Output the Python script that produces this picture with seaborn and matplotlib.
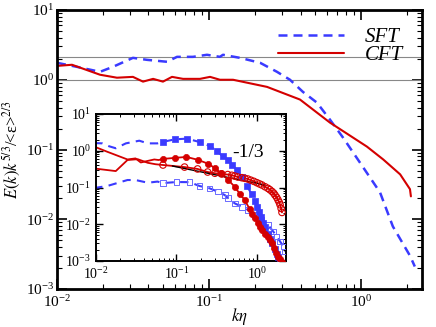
import numpy as np
import pandas as pd
import matplotlib
matplotlib.use("Agg")
import matplotlib.pyplot as plt
import seaborn as sns

# ---- main panel: compensated spectra E(k) k^5/3 / <eps>^2/3
k_sft = [0.01, 0.01354, 0.0192, 0.0233, 0.0316, 0.0391, 0.053, 0.0616, 0.0785,
         0.097, 0.118, 0.1236, 0.16, 0.217, 0.28, 0.341, 0.415, 0.513, 0.625,
         0.762, 0.984, 1.334, 1.62, 2.10, 2.26]
e_sft = [1.75, 1.53, 1.30, 1.53, 2.06, 1.93, 1.81, 2.13, 2.13,
         2.28, 2.13, 2.28, 2.06, 1.75, 1.30, 1.0, 0.67, 0.47, 0.268,
         0.148, 0.065, 0.0243, 0.0079, 0.0030, 0.0021]

k_cft = [0.01, 0.01256, 0.0192, 0.0248, 0.0316, 0.0368, 0.0429, 0.0498, 0.0571,
         0.0675, 0.0873, 0.1016, 0.118, 0.144, 0.241, 0.397, 0.625, 1.094,
         1.40, 1.81, 2.10, 2.13]
e_cft = [1.58, 1.64, 1.18, 1.07, 1.10, 0.94, 1.03, 0.94, 1.10,
         1.03, 1.03, 1.10, 1.0, 1.0, 0.79, 0.52, 0.243, 0.110,
         0.072, 0.044, 0.027, 0.0213]

ref_levels = [1.0, 2.1]

# ---- inset: low-k part is line only, the rest carries symbols
sft1_line_k = [0.0095, 0.012, 0.0145, 0.0176, 0.0235, 0.0345, 0.044, 0.058]
sft1_line_e = [1.62, 1.59, 1.33, 1.17, 1.59, 1.88, 1.59, 1.59]
sft1_sym_k = [0.068, 0.096, 0.135, 0.194, 0.259, 0.32, 0.376, 0.434, 0.49, 0.562,
              0.649, 0.75, 0.866, 0.944, 1.0, 1.07, 1.14, 1.2, 1.26, 1.38, 1.46,
              1.55, 1.68, 1.76, 1.83, 1.94]
sft1_sym_e = [1.75, 2.05, 2.14, 1.73, 1.35, 0.98, 0.70, 0.56, 0.42, 0.30,
              0.19, 0.11, 0.065, 0.042, 0.03, 0.022, 0.016, 0.011, 0.0085, 0.0055, 0.004,
              0.003, 0.0021, 0.0016, 0.0013, 0.0009]

sft2_line_k = [0.0095, 0.0138, 0.0246, 0.031, 0.044, 0.058]
sft2_line_e = [0.097, 0.11, 0.16, 0.16, 0.135, 0.145]
sft2_sym_k = [0.068, 0.1, 0.145, 0.194, 0.259, 0.326, 0.398, 0.44, 0.531, 0.65,
              0.78, 0.944, 1.14, 1.38, 1.6, 1.76, 1.94, 2.14, 2.24]
sft2_sym_e = [0.132, 0.141, 0.14, 0.11, 0.095, 0.077, 0.0625, 0.051, 0.037, 0.03,
              0.0244, 0.0179, 0.0131, 0.0095, 0.0063, 0.0046, 0.0034, 0.0025, 0.0018]

cft1_line_k = [0.0095, 0.0138, 0.0246, 0.031, 0.036, 0.044, 0.053, 0.060]
cft1_line_e = [1.3, 0.94, 0.58, 0.62, 0.48, 0.53, 0.58, 0.56]
cft1_sym_k = [0.068, 0.095, 0.133, 0.183, 0.244, 0.30, 0.36, 0.44, 0.53, 0.61,
              0.71, 0.81, 0.88, 0.944, 1.02, 1.09, 1.17, 1.26, 1.36, 1.46,
              1.55, 1.64, 1.73, 1.83, 1.94, 2.05]
cft1_sym_e = [0.60, 0.64, 0.68, 0.57, 0.45, 0.34, 0.245, 0.16, 0.105, 0.068,
              0.045, 0.026, 0.019, 0.0148, 0.011, 0.0085, 0.0068, 0.0055, 0.0045, 0.0038,
              0.003, 0.0023, 0.0017, 0.0013, 0.0011, 0.00093]

cft2_line_k = [0.0095, 0.0176, 0.0246, 0.033, 0.044, 0.055]
cft2_line_e = [0.33, 0.28, 0.56, 0.59, 0.47, 0.43]
cft2_sym_k = [0.068, 0.126, 0.183, 0.244, 0.30, 0.365, 0.434, 0.487, 0.531, 0.578,
              0.649, 0.708, 0.772, 0.841, 0.917, 1.0, 1.08, 1.155, 1.26, 1.37,
              1.45, 1.54, 1.62, 1.68, 1.76, 1.83, 1.89, 1.94, 2.0, 2.05]
cft2_sym_e = [0.41, 0.36, 0.32, 0.264, 0.245, 0.233, 0.225, 0.215, 0.205, 0.193,
              0.185, 0.178, 0.17, 0.158, 0.147, 0.135, 0.125, 0.117, 0.105, 0.095,
              0.087, 0.078, 0.07, 0.062, 0.054, 0.046, 0.04, 0.034, 0.027, 0.021]

slope_k = [0.089, 1.26]
slope_e = [0.385, 0.117]

BLUE = "#3a3aff"
RED = "#d40000"

sns.set_style("ticks")
plt.rcParams.update({
    "font.family": ["Liberation Serif", "DejaVu Serif"],
    "mathtext.fontset": "stix",
    "axes.edgecolor": "black",
    "axes.labelcolor": "black",
    "text.color": "black",
    "xtick.color": "black",
    "ytick.color": "black",
})

fig = plt.figure(figsize=(4.36, 3.27), dpi=100)
ax = fig.add_axes([0.1307, 0.1162, 0.8372, 0.8532])

for lev in ref_levels:
    ax.axhline(lev, color="#888888", lw=0.8, zorder=1)

sns.lineplot(x=k_sft, y=e_sft, ax=ax, color=BLUE, lw=1.8, label="SFT",
             estimator=None, sort=False, dashes=False, linestyle=(0, (3.6, 2.4)))
sns.lineplot(x=k_cft, y=e_cft, ax=ax, color=RED, lw=1.5, label="CFT",
             estimator=None, sort=False)

ax.set_xscale("log")
ax.set_yscale("log")
ax.set_xlim(0.01, 2.52)
ax.set_ylim(1e-3, 10)
ax.set_xlabel(r"$k\eta$", fontsize=12, labelpad=-3)
ax.set_ylabel(r"$E(k)k^{5/3}$/<ε>$^{2/3}$", fontsize=12, labelpad=2)
ax.tick_params(which="both", direction="in", top=True, right=True, labelsize=11)
ax.tick_params(axis="x", which="major", pad=4)
ax.tick_params(axis="y", which="major", pad=2)
ax.tick_params(which="major", length=7, width=1.2)
ax.tick_params(which="minor", length=3.5, width=0.8)
for s in ax.spines.values():
    s.set_linewidth(2.0)

leg = ax.legend(loc="upper right", bbox_to_anchor=(1.0, 1.005), frameon=False,
                handlelength=3.2, handletextpad=1.0, labelspacing=-0.05,
                prop={"family": "Liberation Serif", "style": "italic", "size": 15})

# ---- inset
ins = fig.add_axes([0.2202, 0.2018, 0.4358, 0.4495])
ins.set_facecolor("white")

sns.lineplot(x=sft1_line_k + sft1_sym_k, y=sft1_line_e + sft1_sym_e, ax=ins, color=BLUE,
             lw=1.5, linestyle=(0, (4, 3)), estimator=None, sort=False)
sns.lineplot(x=sft2_line_k + sft2_sym_k, y=sft2_line_e + sft2_sym_e, ax=ins, color=BLUE,
             lw=1.5, linestyle=(0, (4, 3)), estimator=None, sort=False)
sns.lineplot(x=cft1_line_k + cft1_sym_k, y=cft1_line_e + cft1_sym_e, ax=ins, color=RED,
             lw=1.3, estimator=None, sort=False)
sns.lineplot(x=cft2_line_k + cft2_sym_k, y=cft2_line_e + cft2_sym_e, ax=ins, color=RED,
             lw=1.3, estimator=None, sort=False)
sns.lineplot(x=slope_k, y=slope_e, ax=ins, color="black", lw=1.0, estimator=None)

sns.scatterplot(x=sft2_sym_k, y=sft2_sym_e, ax=ins, marker="s", s=16, color=BLUE,
                facecolor="none", edgecolor="#6a6aff", linewidth=0.7, zorder=3)
sns.scatterplot(x=sft1_sym_k, y=sft1_sym_e, ax=ins, marker="s", s=14, color=BLUE,
                edgecolor=BLUE, linewidth=0.5, zorder=4)
sns.scatterplot(x=cft2_sym_k, y=cft2_sym_e, ax=ins, marker="o", s=22, color=RED,
                facecolor="none", edgecolor=RED, linewidth=0.8, zorder=4)
sns.scatterplot(x=cft1_sym_k, y=cft1_sym_e, ax=ins, marker="o", s=20, color=RED,
                edgecolor=RED, linewidth=0.5, zorder=5)

ins.text(0.78, 0.87, "-1/3", fontsize=14, ha="center", va="center")

ins.set_xscale("log")
ins.set_yscale("log")
ins.set_xlim(0.01, 2.3)
ins.set_ylim(1e-3, 10)
ins.set_xlabel("")
ins.set_ylabel("")
ins.tick_params(which="both", direction="in", top=True, right=True, labelsize=10)
ins.tick_params(which="major", length=5, width=1.0)
ins.tick_params(which="minor", length=2.5, width=0.7)
for s in ins.spines.values():
    s.set_linewidth(1.4)

fig.savefig("out.png", dpi=100)
